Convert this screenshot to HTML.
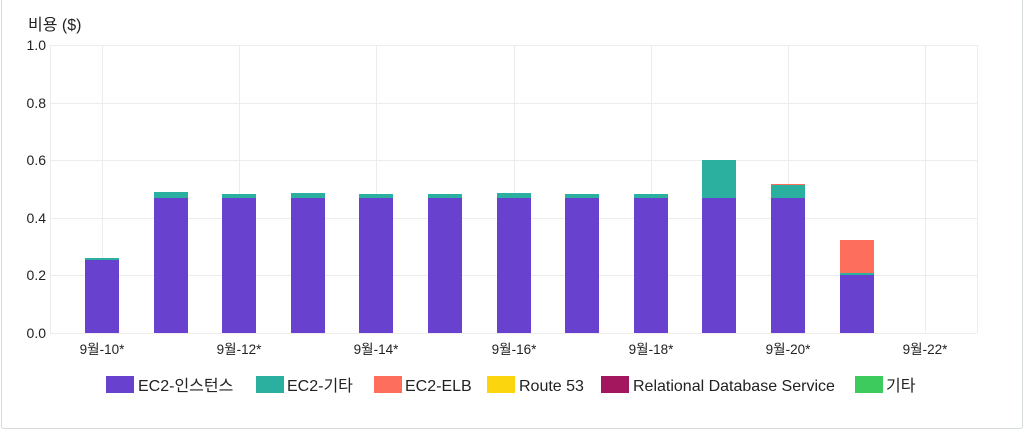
<!DOCTYPE html>
<html><head><meta charset="utf-8"><style>
body{margin:0;background:#fff;width:1024px;height:430px;overflow:hidden;font-family:"Liberation Sans","Noto Sans CJK KR",sans-serif;}
.card{position:absolute;left:1px;top:-5px;width:1020px;height:432px;border:1px solid #d5dbdb;border-radius:3px;}
</style></head><body><div class="card"></div>
<svg width="1024" height="430" style="position:absolute;left:0;top:0" font-family="Liberation Sans, Noto Sans CJK KR, sans-serif">
<text x="28" y="30" font-size="16" fill="#222">비용 ($)</text>
<g stroke="#ececec" stroke-width="1">
<line x1="50" y1="45.5" x2="977" y2="45.5"/><line x1="50" y1="103.5" x2="977" y2="103.5"/>
<line x1="50" y1="160.5" x2="977" y2="160.5"/><line x1="50" y1="218.5" x2="977" y2="218.5"/>
<line x1="50" y1="275.5" x2="977" y2="275.5"/><line x1="50" y1="333.5" x2="977" y2="333.5"/>
<line x1="50.5" y1="45" x2="50.5" y2="333"/><line x1="102.5" y1="45" x2="102.5" y2="333"/>
<line x1="239.5" y1="45" x2="239.5" y2="333"/><line x1="376.5" y1="45" x2="376.5" y2="333"/>
<line x1="514.5" y1="45" x2="514.5" y2="333"/><line x1="651.5" y1="45" x2="651.5" y2="333"/>
<line x1="788.5" y1="45" x2="788.5" y2="333"/><line x1="925.5" y1="45" x2="925.5" y2="333"/>
<line x1="977.5" y1="45" x2="977.5" y2="333"/>
</g>
<g font-size="14" fill="#222" text-anchor="end">
<text x="46" y="50">1.0</text><text x="46" y="108">0.8</text><text x="46" y="165">0.6</text>
<text x="46" y="223">0.4</text><text x="46" y="280">0.2</text><text x="46" y="338">0.0</text>
</g>
<g font-size="13.5" fill="#222" text-anchor="middle">
<text x="102" y="354">9월-10*</text><text x="239" y="354">9월-12*</text><text x="376" y="354">9월-14*</text>
<text x="514" y="354">9월-16*</text><text x="651" y="354">9월-18*</text><text x="788" y="354">9월-20*</text><text x="925" y="354">9월-22*</text>
</g>
<g>
<rect x="85" y="260" width="34" height="73" fill="#6842cf"/><rect x="85" y="258" width="34" height="2" fill="#2bb09f"/>
<rect x="154" y="198" width="34" height="135" fill="#6842cf"/><rect x="154" y="192" width="34" height="6" fill="#2bb09f"/>
<rect x="222" y="198" width="34" height="135" fill="#6842cf"/><rect x="222" y="194" width="34" height="4" fill="#2bb09f"/>
<rect x="291" y="198" width="34" height="135" fill="#6842cf"/><rect x="291" y="193" width="34" height="5" fill="#2bb09f"/>
<rect x="359" y="198" width="34" height="135" fill="#6842cf"/><rect x="359" y="194" width="34" height="4" fill="#2bb09f"/>
<rect x="428" y="198" width="34" height="135" fill="#6842cf"/><rect x="428" y="194" width="34" height="4" fill="#2bb09f"/>
<rect x="497" y="198" width="34" height="135" fill="#6842cf"/><rect x="497" y="193" width="34" height="5" fill="#2bb09f"/>
<rect x="565" y="198" width="34" height="135" fill="#6842cf"/><rect x="565" y="194" width="34" height="4" fill="#2bb09f"/>
<rect x="634" y="198" width="34" height="135" fill="#6842cf"/><rect x="634" y="194" width="34" height="4" fill="#2bb09f"/>
<rect x="702" y="198" width="34" height="135" fill="#6842cf"/><rect x="702" y="160" width="34" height="38" fill="#2bb09f"/>
<rect x="771" y="198" width="34" height="135" fill="#6842cf"/><rect x="771" y="185" width="34" height="13" fill="#2bb09f"/><rect x="771" y="184" width="34" height="1" fill="#fd6e5c"/>
<rect x="840" y="275" width="34" height="58" fill="#6842cf"/><rect x="840" y="273" width="34" height="2" fill="#2bb09f"/><rect x="840" y="240" width="34" height="33" fill="#fd6e5c"/>
</g>
<g font-size="16" fill="#222">
<rect x="106" y="376" width="28" height="17" fill="#6842cf"/><text x="138" y="391">EC2-인스턴스</text>
<rect x="256" y="376" width="28" height="17" fill="#2bb09f"/><text x="287" y="391">EC2-기타</text>
<rect x="374" y="376" width="28" height="17" fill="#fd6e5c"/><text x="405" y="391">EC2-ELB</text>
<rect x="487" y="376" width="28" height="17" fill="#fbd60f"/><text x="519" y="391">Route 53</text>
<rect x="601" y="376" width="28" height="17" fill="#a3175e"/><text x="633" y="391">Relational Database Service</text>
<rect x="855" y="376" width="28" height="17" fill="#3ccb5c"/><text x="886" y="391">기타</text>
</g>
</svg></body></html>
